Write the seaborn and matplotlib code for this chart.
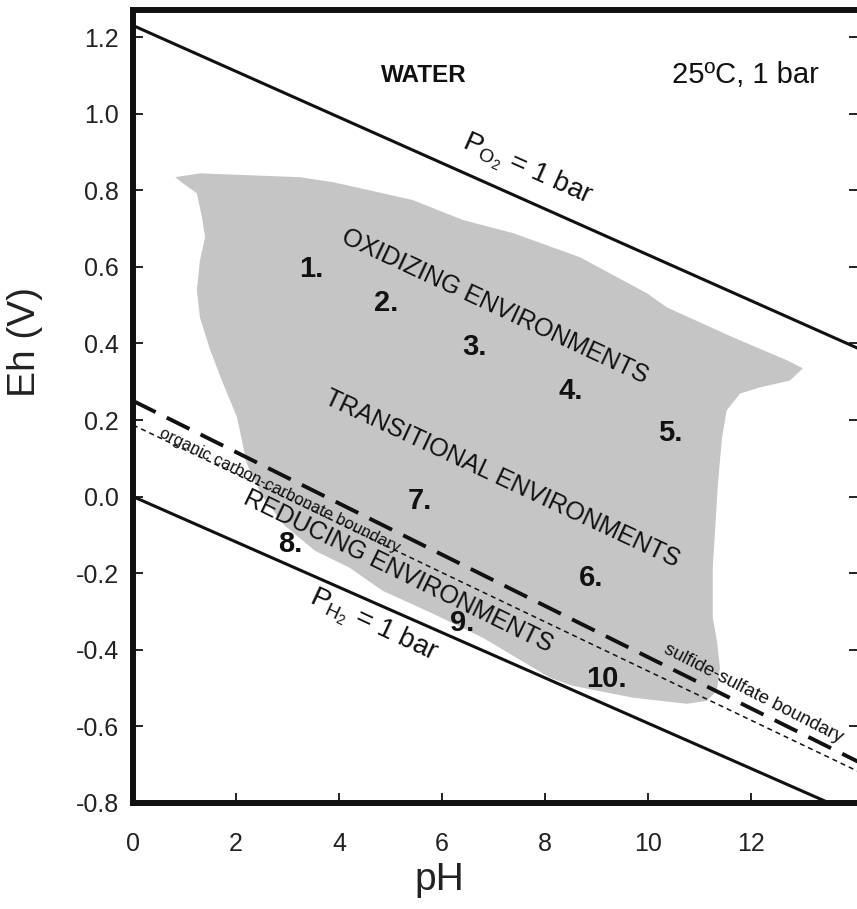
import matplotlib
matplotlib.use("Agg")
import matplotlib.pyplot as plt
import seaborn as sns
import pandas as pd

# ---------------- data ----------------
line_pH = [0.0, 14.2]
po2_Eh = [1.23, 0.38]          # P_O2 = 1 bar (upper water stability limit)
ph2_Eh = [0.0, -0.84]          # P_H2 = 1 bar (lower water stability limit)
sulfide_sulfate_Eh = [0.25, -0.70]
organic_carbonate_Eh = [0.187, -0.725]

region_pH = [0.82, 1.30, 3.24, 3.88, 4.85, 5.44, 6.41, 7.38, 8.68, 9.98, 10.37,
             11.65, 12.70, 13.01, 12.76, 12.17, 11.79, 11.53, 11.44, 11.36,
             11.34, 11.26, 11.26, 11.34, 11.40, 11.34, 11.15, 10.76, 9.71,
             8.54, 8.10, 6.80, 5.83, 4.85, 4.21, 3.53, 2.95, 2.50, 2.21, 2.02,
             1.75, 1.50, 1.30, 1.24, 1.30, 1.40, 1.34, 1.24, 0.97]
region_Eh = [0.834, 0.844, 0.834, 0.821, 0.792, 0.774, 0.722, 0.688, 0.625,
             0.531, 0.494, 0.416, 0.356, 0.335, 0.303, 0.285, 0.269, 0.225,
             0.154, 0.034, -0.010, -0.186, -0.316, -0.376, -0.447, -0.507,
             -0.533, -0.541, -0.525, -0.494, -0.473, -0.369, -0.306, -0.246,
             -0.186, -0.141, -0.076, 0.003, 0.086, 0.207, 0.295, 0.382, 0.468,
             0.539, 0.617, 0.677, 0.729, 0.792, 0.818]

site_labels = ["1.", "2.", "3.", "4.", "5.", "6.", "7.", "8.", "9.", "10."]
site_pH = [3.46, 4.91, 6.64, 8.50, 10.43, 8.89, 5.57, 3.05, 6.39, 9.20]
site_Eh = [0.593, 0.505, 0.390, 0.277, 0.165, -0.212, -0.011, -0.123, -0.329, -0.476]

xticks = [0, 2, 4, 6, 8, 10, 12]
yticks = [-0.8, -0.6, -0.4, -0.2, 0.0, 0.2, 0.4, 0.6, 0.8, 1.0, 1.2]
ytick_labels = ["-0.8", "-0.6", "-0.4", "-0.2", "0.0", "0.2", "0.4", "0.6", "0.8", "1.0", "1.2"]

# ---------------- styling ----------------
sns.set_theme(style="white")
plt.rcParams["font.family"] = ["Liberation Sans", "DejaVu Sans"]
plt.rcParams["mathtext.fontset"] = "custom"
plt.rcParams["mathtext.rm"] = "Liberation Sans"
plt.rcParams["mathtext.it"] = "Liberation Sans:italic"
plt.rcParams["axes.unicode_minus"] = False

INK = "#111111"
GREY = "#c5c5c5"

fig = plt.figure(figsize=(8.57, 9.09), dpi=100)
fig.patch.set_facecolor("white")
ax = fig.add_axes([133 / 857, 106 / 909, 726 / 857, 793 / 909])
ax.set_facecolor("white")

# shaded field of natural environments
ax.fill(region_pH, region_Eh, color=GREY, lw=0, zorder=1)

lines = pd.DataFrame({
    "pH": line_pH * 4,
    "Eh": po2_Eh + ph2_Eh + sulfide_sulfate_Eh + organic_carbonate_Eh,
    "name": ["po2"] * 2 + ["ph2"] * 2 + ["sulf"] * 2 + ["org"] * 2,
})
sns.lineplot(data=lines[lines.name == "po2"], x="pH", y="Eh", ax=ax, color=INK,
             linewidth=2.2, estimator=None, sort=False, zorder=3)
sns.lineplot(data=lines[lines.name == "ph2"], x="pH", y="Eh", ax=ax, color=INK,
             linewidth=2.2, estimator=None, sort=False, zorder=3)
sns.lineplot(data=lines[lines.name == "sulf"], x="pH", y="Eh", ax=ax, color=INK,
             linewidth=2.8, linestyle=(0, (6.5, 3.2)), estimator=None, sort=False, zorder=3)
sns.lineplot(data=lines[lines.name == "org"], x="pH", y="Eh", ax=ax, color=INK,
             linewidth=1.1, linestyle=(0, (3.3, 2.6)), estimator=None, sort=False, zorder=3)

ax.set_xlim(0, 14.1)
ax.set_ylim(-0.8, 1.2705)

# axes frame
for side in ["left", "bottom", "top"]:
    ax.spines[side].set_visible(True)
    ax.spines[side].set_color(INK)
    ax.spines[side].set_linewidth(4.3)
ax.spines["right"].set_visible(False)

ax.set_xticks(xticks)
ax.set_xticklabels([str(t) for t in xticks])
ax.set_yticks(yticks)
ax.set_yticklabels(ytick_labels)
ax.tick_params(axis="both", direction="in", length=7, width=1.3, color=INK,
               labelsize=18, labelcolor="#222222")
ax.tick_params(axis="y", left=True, right=True, pad=10)
ax.tick_params(axis="x", bottom=True, top=False, pad=21)

ax.set_xlabel("pH", fontsize=28, color="#222222")
ax.set_ylabel("Eh (V)", fontsize=28, color="#222222")
ax.xaxis.set_label_coords(0.4215, -0.0744)
ax.yaxis.set_label_coords(-0.124, 0.581)

# annotations
txt = dict(color=INK, ha="center", va="center", rotation_mode="anchor", zorder=5)
ax.text(5.64, 1.10, "WATER", fontsize=17.5, fontweight="bold", **txt)
ax.text(11.9, 1.10, "25ºC, 1 bar", fontsize=21, **txt)
ax.text(7.66, 0.852, r"P$_{\mathrm{O_2}}$ = 1 bar", fontsize=20, rotation=-24, **txt)
ax.text(4.66, -0.337, r"P$_{\mathrm{H_2}}$ = 1 bar", fontsize=20, rotation=-25, **txt)
ax.text(7.03, 0.497, "OXIDIZING ENVIRONMENTS", fontsize=18, rotation=-25, **txt)
ax.text(7.17, 0.047, "TRANSITIONAL ENVIRONMENTS", fontsize=18, rotation=-25, **txt)
ax.text(5.15, -0.196, "REDUCING ENVIRONMENTS", fontsize=18, rotation=-26, **txt)
ax.text(2.85, 0.016, "organic carbon-carbonate boundary", fontsize=12, rotation=-26, **txt)
ax.text(12.04, -0.515, "sulfide-sulfate boundary", fontsize=13.5, rotation=-27, **txt)

for lab, x, y in zip(site_labels, site_pH, site_Eh):
    ax.text(x, y, lab, fontsize=21, fontweight="bold", **txt)

fig.savefig("out.png", dpi=100, facecolor="white")
